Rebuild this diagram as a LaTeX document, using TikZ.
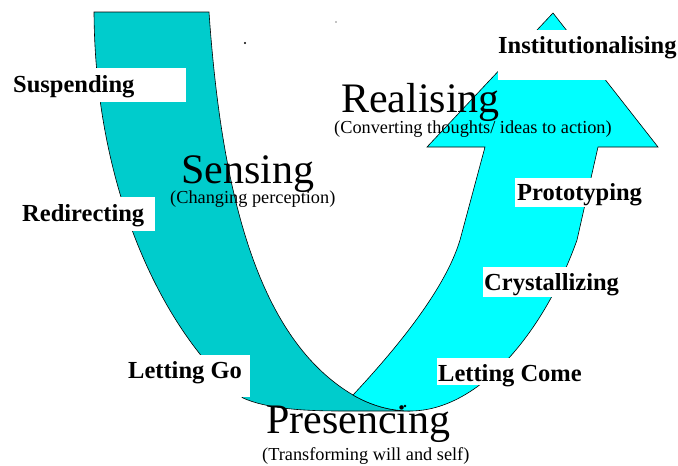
\documentclass[tikz,border=0pt]{standalone}
\usepackage{fontspec}
\setmainfont{Liberation Serif}
\definecolor{tealband}{RGB}{0,204,204}
\definecolor{cyanband}{RGB}{0,255,255}
\begin{document}
\begin{tikzpicture}[x=1pt,y=-1pt,
  lab/.style={font=\fontsize{24.5}{26}\selectfont\bfseries, inner sep=0pt, anchor=base west},
  big/.style={font=\fontsize{42}{44}\selectfont, inner sep=0pt, anchor=base west},
  sub/.style={font=\fontsize{18.3}{20}\selectfont, inner sep=0pt, anchor=base west},
  mask/.style={fill=white, draw=none},
  band/.style={draw=black, line width=0.6pt, line join=miter}]
\useasboundingbox (0,0) rectangle (678,466);
% left band (going down)
\path[band, fill=tealband]
  (94,12) -- (209,12)
  .. controls (222,200) and (260,340) .. (353,395)
  .. controls (365,402) and (385,411) .. (410,411)
  -- (340,411)
  .. controls (300,411) and (265,408) .. (243,398)
  .. controls (170,340) and (95,200) .. (94,12) -- cycle;
% right band (going up, arrow)
\path[band, fill=cyanband]
  (353,395)
  .. controls (395,350) and (445,290) .. (460,240)
  -- (485,147) -- (427,147) -- (553,13) -- (658,147) -- (598,147)
  -- (577,240)
  .. controls (545,330) and (480,411) .. (410,411)
  .. controls (385,411) and (365,402) .. (353,395) -- cycle;
% white label backgrounds
\fill[mask] (10,68) rectangle (186,102);
\fill[mask] (20,197) rectangle (155,231);
\fill[mask] (128,355) rectangle (250,397);
\fill[mask] (437,358) rectangle (590,385);
\fill[mask] (483,267) rectangle (620,297);
\fill[mask] (515,178) rectangle (648,207);
\fill[mask] (498,30) rectangle (678,80);
% labels
\node[lab] (susp) at (13,92) {Suspending};
\node[lab] (redir) at (22,221) {Redirecting};
\node[lab] (letgo) at (128,378) {Letting Go};
\node[lab] (letcome) at (438,381) {Letting Come};
\node[lab] (cryst) at (484,290) {Crystallizing};
\node[lab] (proto) at (517,200) {Prototyping};
\node[lab] (inst) at (498,53) {Institutionalising};
\node[big] (sensing) at (181,183) {Sensing};
\node[sub] (sensingsub) at (170,203) {(Changing perception)};
\node[big] (realising) at (341,112) {Realising};
\node[sub] (realisingsub) at (334,133) {(Converting thoughts/ ideas to action)};
\node[big] (presencing) at (266,433) {Presencing};
\node[sub] (presencingsub) at (262,460) {(Transforming will and self)};
% stray dots
\fill (245,43) circle (1.1);
\fill (336,22) circle (0.7);
\fill (405,406) circle (1.4);
\end{tikzpicture}
\end{document}
